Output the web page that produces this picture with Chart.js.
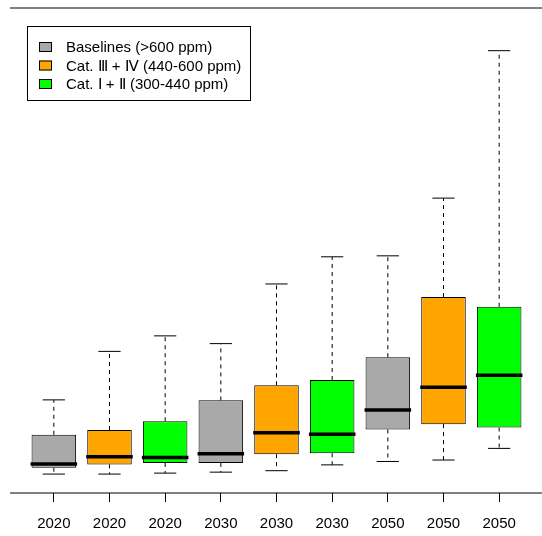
<!DOCTYPE html>
<html>
<head>
<meta charset="utf-8">
<script src="https://cdn.jsdelivr.net/npm/chart.js@4"></script>
<style>
  html, body { margin: 0; padding: 0; background: #fff; }
  #wrap { width: 542px; height: 536px; }
</style>
</head>
<body>
<div id="wrap"><canvas id="box-chart" width="542" height="536"></canvas></div>
<script>
// categories (years), group index per box, and box statistics (arbitrary units)
var categories = ['2020', '2020', '2020', '2030', '2030', '2030', '2050', '2050', '2050'];
var groups = [0, 1, 2, 0, 1, 2, 0, 1, 2];
var lowWhisker = [3.9, 3.9, 4.1, 4.3, 4.6, 5.8, 6.5, 6.8, 9.2];
var q1 = [5.2, 5.9, 6.2, 6.2, 8.0, 8.2, 13.1, 14.2, 13.5];
var median = [6.0, 7.5, 7.3, 8.1, 12.4, 12.1, 17.1, 21.8, 24.3];
var q3 = [12.0, 13.0, 14.8, 19.1, 22.2, 23.3, 28.0, 40.4, 38.4];
var highWhisker = [19.2, 29.2, 32.4, 30.8, 43.1, 48.7, 48.9, 60.8, 91.2];

var groupLabels = ['Baselines (>600 ppm)', 'Cat. \u2162 + \u2163 (440-600 ppm)', 'Cat. \u2160 + \u2161 (300-440 ppm)'];
var groupColors = ['#A9A9A9', '#FFA500', '#00FF00'];

var FONT = '15px "Liberation Sans", Arial, sans-serif';

var boxExtras = {
  id: 'boxExtras',
  afterDatasetsDraw: function(chart) {
    var ctx = chart.ctx;
    var xs = chart.scales.x, ys = chart.scales.y;
    var area = chart.chartArea;
    var bars = chart.getDatasetMeta(0).data;

    ctx.save();
    // frame lines top and bottom
    ctx.strokeStyle = '#000';
    ctx.lineWidth = 1;
    ctx.beginPath();
    ctx.moveTo(area.left - 16, area.top);
    ctx.lineTo(chart.width, area.top);
    ctx.moveTo(area.left - 16, area.bottom);
    ctx.lineTo(chart.width, area.bottom);
    ctx.stroke();

    for (var i = 0; i < categories.length; i++) {
      var x = xs.getPixelForValue(i);
      var hw = bars[i].width / 2;
      var yLo = ys.getPixelForValue(lowWhisker[i]);
      var yQ1 = ys.getPixelForValue(q1[i]);
      var yMed = ys.getPixelForValue(median[i]);
      var yQ3 = ys.getPixelForValue(q3[i]);
      var yHi = ys.getPixelForValue(highWhisker[i]);

      // dashed whiskers
      ctx.strokeStyle = '#000';
      ctx.lineWidth = 1;
      ctx.setLineDash([4, 4]);
      ctx.beginPath();
      ctx.moveTo(x, yQ3);
      ctx.lineTo(x, yHi);
      ctx.moveTo(x, yQ1);
      ctx.lineTo(x, yLo);
      ctx.stroke();
      ctx.setLineDash([]);

      // staples
      ctx.beginPath();
      ctx.moveTo(x - hw / 2, yHi);
      ctx.lineTo(x + hw / 2, yHi);
      ctx.moveTo(x - hw / 2, yLo);
      ctx.lineTo(x + hw / 2, yLo);
      ctx.stroke();

      // median
      ctx.lineWidth = 3.5;
      ctx.beginPath();
      ctx.moveTo(x - hw - 1, yMed);
      ctx.lineTo(x + hw + 1, yMed);
      ctx.stroke();
    }

    // legend
    var lx = area.left + 1, ly = area.top + 18, lw = 223, lh = 74;
    ctx.fillStyle = '#fff';
    ctx.fillRect(lx, ly, lw, lh);
    ctx.strokeStyle = '#000';
    ctx.lineWidth = 1;
    ctx.strokeRect(lx + 0.5, ly + 0.5, lw, lh);
    ctx.font = FONT;
    ctx.textBaseline = 'middle';
    for (var g = 0; g < groupLabels.length; g++) {
      var cy = ly + 21 + g * 18.5;
      ctx.fillStyle = groupColors[g];
      ctx.fillRect(lx + 12, cy - 5, 13, 10);
      ctx.strokeRect(lx + 12.5, cy - 4.5, 12, 9);
      ctx.fillStyle = '#000';
      ctx.fillText(groupLabels[g], lx + 39, cy + 1);
    }
    ctx.restore();
  }
};

window.addEventListener('load', function() {
  var ctx = document.getElementById('box-chart').getContext('2d');
  new Chart(ctx, {
    type: 'bar',
    data: {
      labels: categories,
      datasets: [{
        label: 'boxes',
        data: categories.map(function(c, i) { return [q1[i], q3[i]]; }),
        backgroundColor: groups.map(function(g) { return groupColors[g]; }),
        borderColor: '#000',
        borderWidth: 1,
        borderSkipped: false,
        barPercentage: 0.8,
        categoryPercentage: 1.0
      }]
    },
    options: {
      responsive: false,
      animation: false,
      devicePixelRatio: 1,
      layout: { padding: { left: 26, right: 15, top: 8, bottom: 0 } },
      plugins: { legend: { display: false }, tooltip: { enabled: false } },
      scales: {
        x: {
          offset: true,
          border: { display: false },
          grid: { offset: false, drawOnChartArea: false, drawTicks: true, tickLength: 9, color: '#000' },
          ticks: { color: '#000', font: { family: '"Liberation Sans", Arial, sans-serif', size: 15 }, padding: 13, maxRotation: 0, autoSkip: false },
          afterFit: function(scale) { scale.height = 43; }
        },
        y: {
          display: false,
          min: 0,
          max: 100
        }
      }
    },
    plugins: [boxExtras]
  });
});
</script>
</body>
</html>
